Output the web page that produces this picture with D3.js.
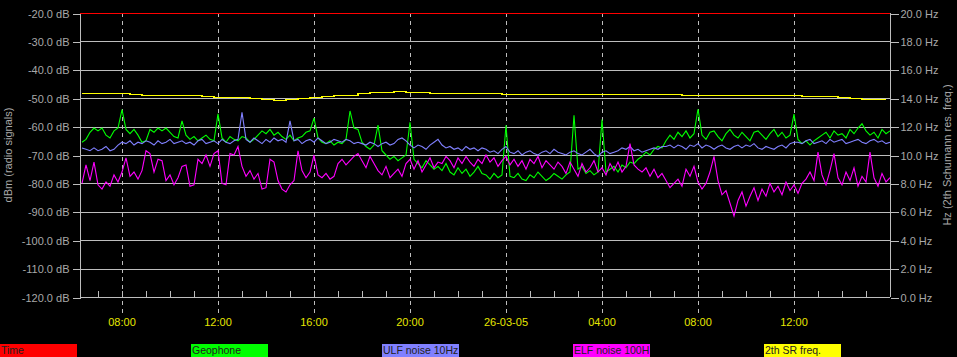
<html>
  <head>
    <meta charset="utf-8">
    <title>Geophone / ULF / ELF monitor</title>
    <style>
      html, body {
        margin: 0;
        padding: 0;
        background: #000;
      }
      svg text {
        font-family: "Liberation Sans", Arial, sans-serif;
      }
    </style>
  </head>
  <body>

<svg id="viz"></svg>

<script src="https://d3js.org/d3.v7.min.js"></script>
<script>
var width = 957;
var height = 357;

// plot box (note: "top" is taken by window.top, so prefixed names)
var plotLeft = 80, plotRight = 890, plotTop = 13, plotBottom = 297;

// time range shown on the x axis
var tStart = new Date(2005, 2, 25, 6, 15);
var tEnd = new Date(2005, 2, 26, 16, 0);

// noise series: one sample every 10 minutes starting 06:20
var sampleStart = new Date(2005, 2, 25, 6, 20);
var sampleStepMin = 10;

// Geophone (dBm)
var geophone = [
  -65.5, -64.5, -62, -60.5, -61.5, -60.5, -63, -64, -61.5, -60.5,
  -54,
  -61, -62.5, -61, -63, -65.5, -65, -61, -62, -60.5,
  -61.5, -60.5, -62, -63.5, -64,
  -58,
  -63, -64.5, -63.5, -65, -64, -63, -64.5, -65,
  -55.5,
  -64, -65.5, -63.5, -64.5, -65, -63.5, -64, -65.5, -64.5, -63,
  -61.5, -62.5, -61, -63, -62,
  -63.5, -64.5, -63, -65, -64, -63.5, -62, -61.5,
  -57,
  -64, -65.5, -66, -65, -66.5, -65.5, -66, -64.5,
  -54.5,
  -60.5, -61, -65.5, -67, -68, -66.5,
  -59.5,
  -68.5, -70, -71.5, -70.5, -72, -71, -70,
  -58.5,
  -71.5, -73, -74.5, -72, -73.5, -75, -74,
  -75.5, -73, -76, -77, -74.5, -76.5, -75, -77.5, -76, -74, -76.5,
  -77, -78.5, -76.5, -78, -77,
  -59.5,
  -77.5, -78, -76.5, -78.5, -79, -77, -78, -76, -77.5, -79, -78, -76.5, -77.5, -78.5, -77, -76,
  -56,
  -75, -74, -76.5, -75.5, -77, -76,
  -57.5,
  -76, -75, -74, -76, -73.5, -74.5, -72.5, -73, -71.5,
  -70.5, -69, -70, -68, -67, -67.5,
  -65, -63, -64.5, -62, -63.5, -61.5, -64, -62.5,
  -53.8,
  -63, -64.5, -62, -61.5, -63.5, -65, -62.5, -61, -63, -64, -62, -63.5, -65, -62, -61.5, -63, -64.5, -62.5, -61, -63.5, -62, -64, -63,
  -55.6,
  -64.5, -66, -65, -66.5, -65, -64,
  -63, -62, -64, -61.5, -63, -62.5, -64, -61, -62.5, -60.5, -59, -61.5, -63, -62, -64, -61, -62.5, -61.5
];

// ULF noise 10Hz (dBm)
var ulfNoise = [
  -67.5, -68, -68.5, -67.5, -68.5, -68, -67, -68.5, -68,
  -66.5, -65.5, -66, -65, -66.5, -65.5, -66, -65, -65.5, -66.5, -65, -66, -65.5, -64.5, -66, -65.5,
  -65, -66, -65.5, -66.5, -65, -64.5, -66, -65.5, -65, -66, -64.5, -65.5, -66, -65, -64.5,
  -55,
  -64.5, -65.5, -64, -65, -66, -64.5, -65.5, -64, -65, -64.5, -65.5,
  -58,
  -65, -64.5, -66, -65, -64.5, -65.5, -64, -65, -66, -65.5, -64.5, -65,
  -65.5, -64.5, -65, -66, -65.5,
  -66, -66.5, -65.5, -66, -67, -66, -65.5, -66.5, -66, -64.5,
  -64, -65, -66.5, -67.5, -66.5, -67, -68, -66.5, -65.5, -64.5,
  -66.5, -67.5, -67, -68, -67.5, -68.5, -67, -68, -67.5, -68.5, -67.5, -68,
  -69, -68.5, -69.5, -68, -67, -69, -69.5, -68.5, -70, -69, -68.5, -69.5, -70, -69, -68.5, -69.5, -68, -69,
  -69.5, -70, -69, -68.5, -69.5, -70, -69, -68, -69.5, -70.5, -69, -68.5, -69.5, -69, -68.5,
  -67.5, -68, -67, -68.5, -68,
  -69, -68.5, -68, -67.5, -68, -67,
  -67, -66.5, -67.5, -66.5, -67, -68, -66.5, -67, -66, -67.5, -66.5, -67, -68, -67, -66.5, -67.5, -68, -67, -66.5, -67.5, -66.5, -67, -66,
  -67.5, -68, -67, -67.5, -68, -67, -66.5, -67.5, -66, -65.5,
  -65.5, -66, -65, -64.5, -66, -65.5, -65, -66, -64.5, -65.5, -65, -64.5, -66, -65.5, -65, -64.5, -65.5, -66, -65, -64.5, -65.5, -65, -66, -65.5
];

// ELF noise 100Hz (dBm)
var elfNoise = [
  -80, -73.5, -79, -72.5, -80.5, -82, -79.5, -81, -77, -79.5,
  -76, -71, -77.5, -76, -78.5, -75.5, -68.5, -69.5, -76, -71.5,
  -72, -79, -77, -80.5, -78, -74, -73.5, -81, -80.5, -71.5,
  -73, -70, -74, -69.5, -68.5, -80, -80.5, -69.5, -70, -67,
  -74, -77.5, -75.5, -78.5, -76.5, -82, -81.5, -71.5, -72.5, -79,
  -82, -83, -80.5, -79, -68.5, -75.5, -78, -76, -70, -77,
  -78, -76.5, -78.5, -77.5, -73, -71.5, -73.5, -72, -70.5, -69.5,
  -72, -74.5, -70.5, -73, -75.5, -77, -74, -78, -76.5, -75,
  -77.5, -73, -71.5, -75, -72, -76, -73.5, -71, -74.5, -72.5,
  -73, -70.5, -72, -74.5, -71, -73, -70.5, -72.5, -74, -71.5,
  -73, -70, -72.5, -71, -74, -72, -70.5, -73.5, -71.5, -74,
  -72, -75, -71.5, -73, -70.5, -74.5, -72, -73.5, -75, -72.5,
  -74, -76.5, -72.5, -75, -77.5, -73, -76, -74.5, -72, -76,
  -74.5, -77, -73, -75.5, -72.5, -76, -74, -66, -73.5, -75,
  -76, -74.5, -77.5, -75, -78, -76.5, -79, -81.5, -80, -78.5,
  -81, -75, -77.5, -74, -79.5, -82, -80, -76, -70.5, -79,
  -84, -82.5, -87, -91.5, -86, -83, -88, -84.5, -81.5, -86,
  -82, -84.5, -80, -83, -81, -84, -79.5, -82.5, -80.5, -83.5,
  -80, -78.5, -76, -79, -69, -77, -80.5, -75.5, -69.5, -78,
  -80.5, -76, -79, -74.5, -81, -77.5, -79.5, -69, -78, -81,
  -76.5, -79.5, -78
];

// 2th Schumann resonance frequency (Hz), one sample every 30 minutes from 06:20
var srStepMin = 30;
var srFreq = [
  14.35, 14.35, 14.35, 14.35, 14.3, 14.25, 14.25, 14.25, 14.25, 14.2,
  14.15, 14.1, 14.1, 14.05, 14.0, 13.95, 13.9, 13.95, 14.0, 14.05,
  14.15, 14.2, 14.25, 14.35, 14.45, 14.45, 14.5, 14.45, 14.45, 14.4,
  14.4, 14.4, 14.4, 14.35, 14.35, 14.3, 14.3, 14.3, 14.3, 14.3,
  14.3, 14.3, 14.3, 14.3, 14.3, 14.3, 14.3, 14.3, 14.3, 14.3,
  14.25, 14.2, 14.2, 14.2, 14.2, 14.2, 14.25, 14.25, 14.25, 14.25,
  14.15, 14.15, 14.15, 14.1, 14.0, 13.95, 13.95, 13.95
];

var dbTicks = [-20, -30, -40, -50, -60, -70, -80, -90, -100, -110, -120];
var hzTicks = [0, 2, 4, 6, 8, 10, 12, 14, 16, 18, 20];

var legendNames = ["Time", "Geophone", "ULF noise 10Hz", "ELF noise 100H", "2th SR freq."];
var legendColors = ["#ff0000", "#00ff00", "#8080ff", "#ff00ff", "#ffff00"];

var gridColor = "#bdbdbd";
var labelColor = "#a8a8a8";

var svg = d3.select("#viz").attr("width", width).attr("height", height)
    .style("display", "block").style("background", "#000");

var x = d3.scaleTime().domain([tStart, tEnd]).range([plotLeft, plotRight]);
var yDb = d3.scaleLinear().domain([-120, -20]).range([plotBottom, plotTop]);
var yHz = d3.scaleLinear().domain([0, 20]).range([plotBottom, plotTop]);

function sampleTime(i, step) {
    return d3.timeMinute.offset(sampleStart, i * step);
}

// plain hyphen instead of the unicode minus d3.format uses
var fmt1 = function(d) { return d3.format(".1f")(d).replace("\u2212", "-"); };

// horizontal grid lines
svg.append("g")
    .selectAll("line")
    .data(dbTicks)
    .enter()
    .append("line")
    .attr("x1", plotLeft)
    .attr("x2", plotRight)
    .attr("y1", function(d) { return Math.round(yDb(d)) + 0.5; })
    .attr("y2", function(d) { return Math.round(yDb(d)) + 0.5; })
    .attr("stroke", gridColor)
    .attr("stroke-width", 1)
    .attr("shape-rendering", "crispEdges");

// dashed verticals every 4 hours, running a bit below the axis
var majorTicks = x.ticks(d3.timeHour.every(4)).filter(function(d) { return x(d) < plotRight - 10; });
var minorTicks = x.ticks(d3.timeHour.every(1)).filter(function(d) { return x(d) < plotRight - 2; });

svg.append("g")
    .selectAll("line")
    .data(majorTicks)
    .enter()
    .append("line")
    .attr("x1", function(d) { return Math.round(x(d)) + 0.5; })
    .attr("x2", function(d) { return Math.round(x(d)) + 0.5; })
    .attr("y1", plotTop)
    .attr("y2", plotBottom + 16)
    .attr("stroke", gridColor)
    .attr("stroke-dasharray", "4,4")
    .attr("shape-rendering", "crispEdges");

// hourly little ticks on top of the axis
svg.append("g")
    .selectAll("line")
    .data(minorTicks)
    .enter()
    .append("line")
    .attr("x1", function(d) { return Math.round(x(d)) + 0.5; })
    .attr("x2", function(d) { return Math.round(x(d)) + 0.5; })
    .attr("y1", plotBottom - 6)
    .attr("y2", plotBottom)
    .attr("stroke", gridColor)
    .attr("shape-rendering", "crispEdges");

// the two vertical axis lines
svg.append("line")
    .attr("x1", plotLeft + 0.5).attr("x2", plotLeft + 0.5)
    .attr("y1", plotTop).attr("y2", plotBottom)
    .attr("stroke", gridColor).attr("shape-rendering", "crispEdges");
svg.append("line")
    .attr("x1", plotRight + 0.5).attr("x2", plotRight + 0.5)
    .attr("y1", plotTop).attr("y2", plotBottom)
    .attr("stroke", gridColor).attr("shape-rendering", "crispEdges");

// left axis (dB)
var leftAxis = d3.axisLeft(yDb)
    .tickValues(dbTicks)
    .tickSize(8)
    .tickPadding(3)
    .tickFormat(function(d) { return fmt1(d) + " dB"; });

var gl = svg.append("g").attr("transform", "translate(" + (plotLeft + 0.5) + ",0.5)").call(leftAxis);
gl.select(".domain").remove();
gl.selectAll("line").attr("stroke", gridColor).attr("shape-rendering", "crispEdges");
gl.selectAll("text").attr("fill", labelColor).style("font-size", "11px");

// right axis (Hz)
var rightAxis = d3.axisRight(yHz)
    .tickValues(hzTicks)
    .tickSize(8)
    .tickPadding(2)
    .tickFormat(function(d) { return fmt1(d) + " Hz"; });

var gr = svg.append("g").attr("transform", "translate(" + (plotRight + 0.5) + ",0.5)").call(rightAxis);
gr.select(".domain").remove();
gr.selectAll("line").attr("stroke", gridColor).attr("shape-rendering", "crispEdges");
gr.selectAll("text").attr("fill", labelColor).style("font-size", "11px");

// time labels
var fmtHour = d3.timeFormat("%H:%M");
var fmtDay = d3.timeFormat("%d-%m-%y");
svg.append("g")
    .selectAll("text")
    .data(majorTicks)
    .enter()
    .append("text")
    .attr("x", function(d) { return x(d); })
    .attr("y", 326)
    .attr("text-anchor", "middle")
    .attr("fill", "#e6e600")
    .style("font-size", "11px")
    .text(function(d) { return d.getHours() == 0 ? fmtDay(d) : fmtHour(d); });

// axis titles
svg.append("text")
    .attr("transform", "translate(12," + ((plotTop + plotBottom) / 2) + ") rotate(-90)")
    .attr("text-anchor", "middle")
    .attr("fill", labelColor)
    .style("font-size", "11px")
    .text("dBm (radio signals)");

svg.append("text")
    .attr("transform", "translate(951," + ((plotTop + plotBottom) / 2) + ") rotate(-90)")
    .attr("text-anchor", "middle")
    .attr("fill", labelColor)
    .style("font-size", "11px")
    .text("Hz (2th Schumann res. freq.)");

// series
var lineDb = function(arr, step) {
    return d3.line()
        .x(function(d, i) { return x(sampleTime(i, step)); })
        .y(function(d) { return yDb(d); })(arr);
};

// "Time" trace sits on the top edge
svg.append("line")
    .attr("x1", plotLeft).attr("x2", plotRight)
    .attr("y1", Math.round(yDb(-20)) + 0.5).attr("y2", Math.round(yDb(-20)) + 0.5)
    .attr("stroke", legendColors[0])
    .attr("shape-rendering", "crispEdges");

var plot = svg.append("g").attr("fill", "none").attr("stroke-width", 1.1);

plot.append("path")
    .attr("d", lineDb(geophone, sampleStepMin))
    .attr("stroke", legendColors[1]);

plot.append("path")
    .attr("d", lineDb(ulfNoise, sampleStepMin))
    .attr("stroke", legendColors[2]);

plot.append("path")
    .attr("d", lineDb(elfNoise, sampleStepMin))
    .attr("stroke", legendColors[3]);

plot.append("path")
    .attr("d", d3.line()
        .curve(d3.curveStepAfter)
        .x(function(d, i) { return x(sampleTime(i, srStepMin)); })
        .y(function(d) { return Math.round(yHz(d)) + 0.5; })(srFreq))
    .attr("stroke", legendColors[4])
    .attr("shape-rendering", "crispEdges");

// legend boxes along the bottom
var legend = svg.append("g")
    .selectAll("g")
    .data(legendNames)
    .enter()
    .append("g")
    .attr("transform", function(d, i) { return "translate(" + (i * 191) + ",344)"; });

legend.append("rect")
    .attr("width", 77)
    .attr("height", 14)
    .attr("fill", function(d, i) { return legendColors[i]; });

legend.append("text")
    .attr("x", 1)
    .attr("y", 10)
    .attr("fill", "#202020")
    .style("font-size", "10.5px")
    .text(function(d) { return d; });
</script>

  </body>
</html>
